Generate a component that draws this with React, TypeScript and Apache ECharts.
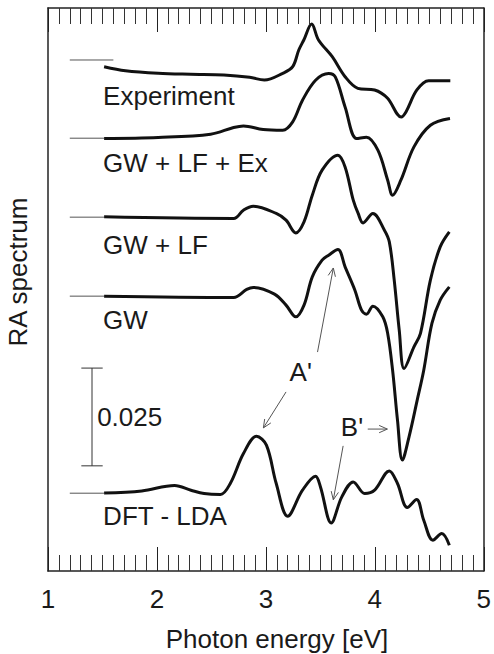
import React, { useEffect, useRef } from "react";
import * as echarts from "echarts";

// ---- data (photon energy in eV, RA signal relative to each curve's baseline in units of 1e-3) ----
const curveNames = ["Experiment", "GW + LF + Ex", "GW + LF", "GW", "DFT - LDA"];
const baselines = [0.1307, 0.1107, 0.0905, 0.0703, 0.0199];
const labelY = [0.1215, 0.1043, 0.0834, 0.0642, 0.0141];

const expE = [1.515, 1.711, 2.011, 2.309, 2.614, 2.851, 2.986, 3.155, 3.246, 3.302, 3.348, 3.42, 3.483, 3.609, 3.727, 3.844, 3.998, 4.115, 4.242, 4.287, 4.386, 4.494, 4.693];
const expV = [-1.71, -2.74, -3.4, -3.66, -3.84, -4.42, -5.12, -3.4, -1.71, 2.56, 5.12, 9.21, 5.12, 0.84, -4.27, -7.24, -7.67, -9.72, -14.58, -13.22, -7.67, -5.29, -5.29];

const lfexE = [1.515, 2.011, 2.493, 2.704, 2.794, 2.975, 3.155, 3.246, 3.336, 3.456, 3.576, 3.637, 3.727, 3.833, 3.923, 4.028, 4.118, 4.163, 4.239, 4.359, 4.51, 4.69];
const lfexV = [-0.08, 0.18, 1.02, 2.74, 3.15, 2.23, 2.05, 4.17, 9.72, 14.83, 16.55, 15.68, 8.0, -0.08, 0.26, -3.07, -10.74, -14.58, -10.74, -2.23, 3.32, 5.04];

const lfE = [1.515, 2.704, 2.794, 2.884, 3.095, 3.185, 3.275, 3.35, 3.426, 3.516, 3.661, 3.727, 3.802, 3.847, 3.892, 3.982, 4.088, 4.133, 4.178, 4.224, 4.269, 4.359, 4.419, 4.51, 4.6, 4.684];
const lfV = [0.08, -0.33, 1.79, 2.81, 0.95, -0.77, -4.02, -1.2, 5.63, 12.02, 15.86, 12.86, 4.35, 0.95, -1.46, 0.95, -3.32, -6.32, -16.11, -28.9, -38.7, -33.17, -29.74, -16.11, -7.6, -3.76];

const gwE = [1.515, 2.704, 2.824, 2.884, 3.079, 3.185, 3.275, 3.35, 3.426, 3.516, 3.576, 3.661, 3.727, 3.817, 3.878, 3.923, 3.982, 4.073, 4.118, 4.163, 4.208, 4.253, 4.314, 4.389, 4.449, 4.524, 4.6, 4.684];
const gwV = [0, -0.33, 1.71, 2.23, 0.51, -2.3, -5.29, -2.3, 4.94, 9.21, 10.49, 11.94, 7.49, 1.53, -3.58, -4.6, -2.56, -5.29, -9.54, -18.93, -31.71, -41.94, -35.98, -26.6, -18.93, -6.98, -1.02, 2.38];

const dftE = [1.515, 1.861, 2.162, 2.312, 2.433, 2.583, 2.673, 2.794, 2.914, 3.005, 3.095, 3.2, 3.336, 3.456, 3.501, 3.6, 3.697, 3.802, 3.907, 3.998, 4.133, 4.208, 4.298, 4.383, 4.449, 4.533, 4.614, 4.684];
const dftV = [0.08, 0.59, 1.97, 0.77, -0.08, -0.33, 2.48, 10.15, 14.58, 12.28, 2.48, -5.88, 0.77, 4.35, 1.61, -7.6, -0.95, 2.89, -0.08, 0.77, 5.7, 2.48, -3.66, -1.61, -6.91, -12.02, -10.31, -13.3];

const curveE = [expE, lfexE, lfE, gwE, dftE];
const curveV = [expV, lfexV, lfV, gwV, dftV];

// short reference lines marking each baseline
const refStart = [1.2, 1.2, 1.2, 1.2, 1.2];
const refEnd = [1.6, 1.515, 1.515, 1.515, 1.515];

// scale bar (0.025)
const scaleBarValue = 0.025;
const scaleBarBottom = 0.0269;
const scaleBarE = 1.404;
const scaleBarCap = 0.098;

// annotations: [text, e, y]
const annoTexts: [string, number, number][] = [
  ["A'", 3.32, 0.0509],
  ["B'", 3.79, 0.0368],
];
// arrows: [fromE, fromY, toE, toY]
const arrows: [number, number, number, number][] = [
  [3.474, 0.056, 3.619, 0.0775],
  [3.185, 0.0458, 2.977, 0.0366],
  [3.935, 0.0363, 4.115, 0.0363],
  [3.709, 0.032, 3.619, 0.0182],
];

const xTicks = [1, 2, 3, 4, 5];

const FONT = "Liberation Sans, Arial, Helvetica, sans-serif";
const INK = "#1a1a1a";
const FS = 26;

export default function App() {
  const ref = useRef<HTMLDivElement>(null);
  useEffect(() => {
    if (!ref.current) return;
    const chart = echarts.init(ref.current, undefined, { renderer: "svg" });

    const series: any[] = [];
    curveNames.forEach((name, i) => {
      series.push({
        name,
        type: "line",
        smooth: 0.35,
        showSymbol: false,
        symbol: "none",
        lineStyle: { color: "#111", width: 3 },
        data: curveE[i].map((e, k) => [e, baselines[i] + curveV[i][k] / 1000]),
        z: 3,
      });
      series.push({
        type: "line",
        showSymbol: false,
        symbol: "none",
        lineStyle: { color: "#555", width: 1 },
        data: [
          [refStart[i], baselines[i]],
          [refEnd[i], baselines[i]],
        ],
        z: 2,
      });
    });
    const sbTop = scaleBarBottom + scaleBarValue;
    const sbLine = (d: number[][]) => ({
      type: "line",
      showSymbol: false,
      symbol: "none",
      lineStyle: { color: "#333", width: 1 },
      data: d,
    });
    series.push(sbLine([[scaleBarE, scaleBarBottom], [scaleBarE, sbTop]]));
    series.push(sbLine([[scaleBarE - scaleBarCap, scaleBarBottom], [scaleBarE + scaleBarCap, scaleBarBottom]]));
    series.push(sbLine([[scaleBarE - scaleBarCap, sbTop], [scaleBarE + scaleBarCap, sbTop]]));

    const xAxisBase = {
      type: "value",
      min: xTicks[0],
      max: xTicks[xTicks.length - 1],
      interval: 1,
      axisLine: { show: true, onZero: false, lineStyle: { color: "#222", width: 1.5 } },
      axisTick: { show: true, inside: true, length: 24, lineStyle: { color: "#222", width: 1 } },
      minorTick: { show: true, splitNumber: 10, length: 16, lineStyle: { color: "#333", width: 1 } },
      splitLine: { show: false },
      minorSplitLine: { show: false },
    };
    const yAxisBase = {
      type: "value",
      min: 0,
      max: 0.144,
      axisLine: { show: true, onZero: false, lineStyle: { color: "#222", width: 1.5 } },
      axisTick: { show: false },
      axisLabel: { show: false },
      splitLine: { show: false },
    };

    chart.setOption({
      animation: false,
      grid: { left: 48, right: 3, top: 8, bottom: 83, containLabel: false },
      xAxis: [
        {
          ...xAxisBase,
          position: "bottom",
          axisLabel: { show: true, fontSize: FS, color: INK, margin: 15, fontFamily: FONT, showMinLabel: true, showMaxLabel: true },
        },
        { ...xAxisBase, position: "top", axisLabel: { show: false } },
      ],
      yAxis: [
        { ...yAxisBase, position: "left" },
        { ...yAxisBase, position: "right" },
      ],
      series,
    });

    const px = (e: number, y: number) => chart.convertToPixel({ xAxisIndex: 0, yAxisIndex: 0 }, [e, y]) as number[];
    const graphic: any[] = [];
    const textStyle = (text: string, align: string) => ({
      text,
      fontSize: FS,
      fontFamily: FONT,
      fill: INK,
      align,
      verticalAlign: "middle",
      textAlign: align,
      textVerticalAlign: "middle",
    });
    curveNames.forEach((name, i) => {
      const p = px(1.506, labelY[i]);
      graphic.push({ type: "text", x: p[0], y: p[1], style: textStyle(name, "left"), z: 10 });
    });
    {
      const p = px(1.451, scaleBarBottom + scaleBarValue / 2);
      graphic.push({ type: "text", x: p[0], y: p[1], style: textStyle(String(scaleBarValue), "left"), z: 10 });
    }
    annoTexts.forEach(([t, e, y]) => {
      const p = px(e, y);
      graphic.push({ type: "text", x: p[0], y: p[1], style: textStyle(t, "center"), z: 10 });
    });
    arrows.forEach(([e0, y0, e1, y1]) => {
      const a = px(e0, y0);
      const b = px(e1, y1);
      const dx = b[0] - a[0];
      const dy = b[1] - a[1];
      const len = Math.hypot(dx, dy);
      const ux = dx / len;
      const uy = dy / len;
      const L = 9;
      const th = (24 * Math.PI) / 180;
      const rot = (s: number) => [
        b[0] - L * (ux * Math.cos(s * th) - uy * Math.sin(s * th)),
        b[1] - L * (ux * Math.sin(s * th) + uy * Math.cos(s * th)),
      ];
      graphic.push({
        type: "line",
        shape: { x1: a[0], y1: a[1], x2: b[0], y2: b[1] },
        style: { stroke: "#555", lineWidth: 1 },
        z: 10,
      });
      graphic.push({
        type: "polyline",
        shape: { points: [rot(1), b, rot(-1)] },
        style: { stroke: "#555", lineWidth: 1, fill: null },
        z: 10,
      });
    });
    graphic.push({
      type: "text",
      x: 277,
      y: 639,
      style: textStyle("Photon energy [eV]", "center"),
    });
    graphic.push({
      type: "text",
      x: 18,
      y: 272,
      rotation: Math.PI / 2,
      style: textStyle("RA spectrum", "center"),
    });
    chart.setOption({ graphic });

    return () => chart.dispose();
  }, []);

  return (
    <div
      ref={ref}
      style={{ position: "fixed", left: 0, top: 0, width: 494, height: 654, background: "#fff" }}
    />
  );
}
